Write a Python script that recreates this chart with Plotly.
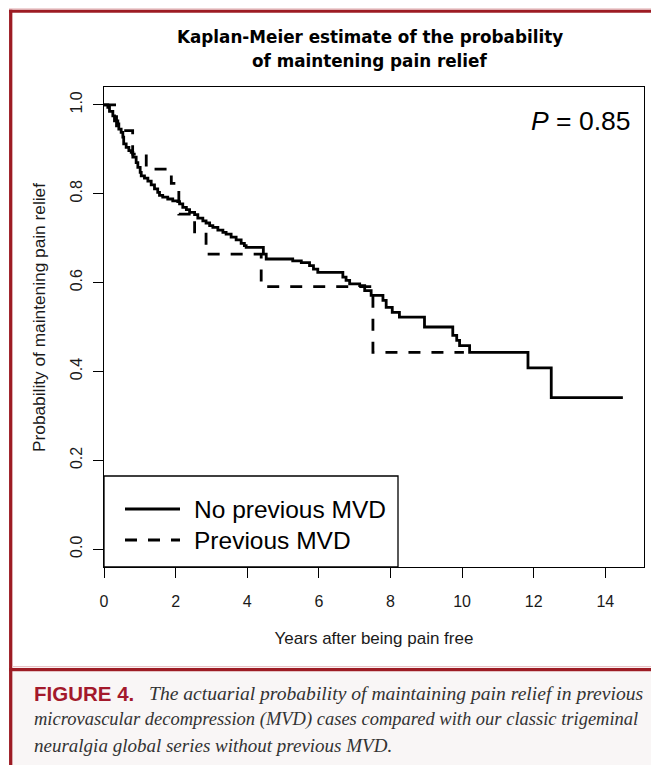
import plotly.graph_objects as go

# ---- data ----
times_no_prev = [0, 0.107, 0.154, 0.247, 0.293, 0.386, 0.414, 0.479, 0.526, 0.55,
                 0.619, 0.694, 0.759, 0.805, 0.898, 0.945, 1.01, 1.04, 1.13, 1.225,
                 1.318, 1.41, 1.50, 1.55, 1.64, 1.78, 1.92, 2.06, 2.11, 2.20,
                 2.30, 2.39, 2.53, 2.62, 2.76, 2.85, 2.95, 3.04, 3.18, 3.32,
                 3.41, 3.55, 3.69, 3.83, 3.92, 3.97, 4.45, 4.53, 5.27, 5.51,
                 5.74, 5.85, 5.97, 6.67, 6.76, 6.86, 7.14, 7.28, 7.46, 7.79,
                 7.88, 8.05, 8.25, 8.95, 9.74, 9.85, 9.93, 10.21, 11.84, 12.49,
                 14.49]
surv_no_prev = [1.0, 0.994, 0.985, 0.975, 0.964, 0.957, 0.945, 0.938, 0.927, 0.912,
                0.904, 0.897, 0.893, 0.882, 0.870, 0.859, 0.848, 0.840, 0.835, 0.828,
                0.820, 0.811, 0.803, 0.796, 0.792, 0.788, 0.784, 0.782, 0.777, 0.769,
                0.764, 0.758, 0.753, 0.745, 0.739, 0.734, 0.728, 0.724, 0.718, 0.713,
                0.709, 0.702, 0.696, 0.688, 0.683, 0.679, 0.664, 0.653, 0.649, 0.645,
                0.638, 0.630, 0.623, 0.612, 0.605, 0.597, 0.593, 0.582, 0.571, 0.560,
                0.544, 0.533, 0.522, 0.500, 0.481, 0.470, 0.458, 0.443, 0.408, 0.341,
                0.341]

times_prev = [0, 0.35, 0.80, 1.18, 1.88, 2.09, 2.53, 2.85, 4.39, 7.51, 10.05]
surv_prev = [1.0, 0.942, 0.889, 0.855, 0.823, 0.754, 0.709, 0.664, 0.591, 0.443, 0.443]

x_ticks = [0, 2, 4, 6, 8, 10, 12, 14]
y_ticks = [0.0, 0.2, 0.4, 0.6, 0.8, 1.0]
y_tick_labels = ["0.0", "0.2", "0.4", "0.6", "0.8", "1.0"]

series_names = ["No previous MVD", "Previous MVD"]
title_lines = ["Kaplan-Meier estimate of the probability", "of maintening pain relief"]
x_title = "Years after being pain free"
y_title = "Probability of maintening pain relief"
p_text = "<i>P</i> = 0.85"
caption_label = "FIGURE 4."
caption_lines = [
    "The actuarial probability of maintaining pain relief in previous",
    "microvascular decompression (MVD) cases compared with our classic trigeminal",
    "neuralgia global series without previous MVD.",
]

# ---- layout geometry ----
# The page body adds an 8px margin, so the figure is sized to fill the
# 659x765 window from (8, 8); positions below are given in window pixels.
OFF = 8
W, H = 659 - OFF, 765 - OFF
ML, MR, MT, MB = 96, 15, 79, 198
PW = W - ML - MR
PH = H - MT - MB


def px(xpix):
    return (xpix - OFF - ML) / PW


def py(ypix):
    return (H - MB - (ypix - OFF)) / PH


RED = "#9d1c24"
PALE = "#e9c3c6"
SANS = "Liberation Sans, Arial, sans-serif"
SERIF = "Liberation Serif, serif"

fig = go.Figure()
fig.add_trace(go.Scatter(x=times_no_prev, y=surv_no_prev, mode="lines",
                         line=dict(shape="hv", color="black", width=2.8),
                         name=series_names[0], showlegend=False))
fig.add_trace(go.Scatter(x=times_prev, y=surv_prev, mode="lines",
                         line=dict(shape="hv", color="black", width=2.8, dash="12px,11px"),
                         name=series_names[1], showlegend=False))

shapes = []
# outer frame
shapes.append(dict(type="line", xref="paper", yref="paper", x0=px(9), x1=px(670),
                   y0=py(8.8), y1=py(8.8), line=dict(color=PALE, width=1.2)))
shapes.append(dict(type="line", xref="paper", yref="paper", x0=px(9), x1=px(670),
                   y0=py(11.3), y1=py(11.3), line=dict(color=RED, width=3)))
shapes.append(dict(type="line", xref="paper", yref="paper", x0=px(10.7), x1=px(10.7),
                   y0=py(9.8), y1=py(780), line=dict(color=RED, width=3.3)))
# caption background and separator
shapes.append(dict(type="rect", xref="paper", yref="paper", x0=px(12.4), x1=px(670),
                   y0=py(671.5), y1=py(780), line=dict(width=0), fillcolor="#f9f6f6",
                   layer="below"))
shapes.append(dict(type="line", xref="paper", yref="paper", x0=px(12.4), x1=px(670),
                   y0=py(666.6), y1=py(666.6), line=dict(color=PALE, width=1.2)))
shapes.append(dict(type="line", xref="paper", yref="paper", x0=px(9), x1=px(670),
                   y0=py(669.6), y1=py(669.6), line=dict(color=RED, width=3.4)))
# legend box and samples
shapes.append(dict(type="rect", xref="paper", yref="paper", x0=0, x1=px(398),
                   y0=0, y1=py(476), line=dict(color="black", width=1.3),
                   fillcolor="white", layer="above"))
shapes.append(dict(type="line", xref="paper", yref="paper", x0=px(125), x1=px(180),
                   y0=py(509), y1=py(509), line=dict(color="black", width=2.8)))
shapes.append(dict(type="line", xref="paper", yref="paper", x0=px(125), x1=px(180),
                   y0=py(540), y1=py(540), line=dict(color="black", width=2.8, dash="12px,11px")))

ann = []
for txt, yy in zip(title_lines, [37, 61]):
    ann.append(dict(text=txt, x=px(370), y=py(yy), xref="paper", yref="paper",
                    showarrow=False, xanchor="center", yanchor="middle",
                    font=dict(family="DejaVu Sans", size=16.8, color="black", weight="bold")))
ann.append(dict(text=p_text, x=px(632), y=py(121), xref="paper", yref="paper",
                showarrow=False, xanchor="right", yanchor="middle",
                font=dict(family=SANS, size=26.5, color="black")))
for txt, yy in zip(series_names, [509, 540]):
    ann.append(dict(text=txt, x=px(192), y=py(yy), xref="paper", yref="paper",
                    showarrow=False, xanchor="left", yanchor="middle",
                    font=dict(family=SANS, size=24.5, color="black")))
# y axis title
ann.append(dict(text=y_title, x=px(39), y=py(318), xref="paper", yref="paper",
                showarrow=False, xanchor="center", yanchor="middle", textangle=-90,
                font=dict(family=SANS, size=17.3, color="#1a1a1a")))
# caption
ann.append(dict(text="<b>" + caption_label + "</b>", x=px(32), y=py(693), xref="paper",
                yref="paper", showarrow=False, xanchor="left", yanchor="middle",
                font=dict(family=SANS, size=20.5, color="#a3192b")))
ann.append(dict(text="<i>" + caption_lines[0] + "</i>", x=px(147), y=py(693), xref="paper",
                yref="paper", showarrow=False, xanchor="left", yanchor="middle",
                font=dict(family=SERIF, size=19.6, color="#333333")))
ann.append(dict(text="<i>" + caption_lines[1] + "</i>", x=px(32), y=py(719), xref="paper",
                yref="paper", showarrow=False, xanchor="left", yanchor="middle",
                font=dict(family=SERIF, size=18.5, color="#333333")))
ann.append(dict(text="<i>" + caption_lines[2] + "</i>", x=px(32), y=py(745), xref="paper",
                yref="paper", showarrow=False, xanchor="left", yanchor="middle",
                font=dict(family=SERIF, size=19, color="#333333")))

fig.update_layout(
    width=W, height=H,
    margin=dict(l=ML, r=MR, t=MT, b=MB, pad=0),
    paper_bgcolor="white", plot_bgcolor="white",
    shapes=shapes, annotations=ann, showlegend=False,
    font=dict(family=SANS, color="#1a1a1a"),
)
fig.update_xaxes(range=[0, 15.08], tickvals=x_ticks, ticks="outside", ticklen=10,
                 tickwidth=1.3, tickcolor="black", showline=True, linecolor="black",
                 linewidth=1.3, mirror=True, showgrid=False, zeroline=False,
                 tickfont=dict(family=SANS, size=16, color="#1a1a1a"),
                 ticklabelstandoff=10,
                 title=dict(text=x_title, font=dict(family=SANS, size=17, color="#1a1a1a"),
                            standoff=22))
fig.update_yaxes(range=[-0.04, 1.04], tickvals=y_ticks, ticktext=y_tick_labels,
                 ticks="outside", ticklen=10, tickwidth=1.3, tickcolor="black",
                 showline=True, linecolor="black", linewidth=1.3, mirror=True,
                 showgrid=False, zeroline=False, tickangle=-90,
                 tickfont=dict(family=SANS, size=16, color="#1a1a1a"),
                 ticklabelstandoff=4)

fig.write_html("out.html")
